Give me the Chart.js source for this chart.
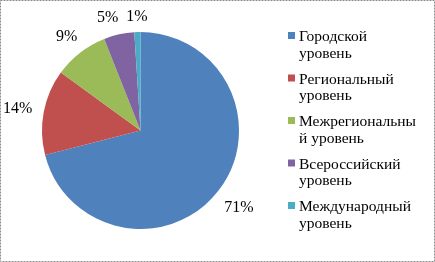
<!DOCTYPE html>
<html>
<head>
<meta charset="utf-8">
<script src="https://cdn.jsdelivr.net/npm/chart.js@4"></script>
<style>
  html, body { margin:0; padding:0; background:#fff; }
  #wrap { width:435px; height:262px; position:relative; }
</style>
</head>
<body>
<div id="wrap"><canvas id="chartUroven" width="435" height="262"></canvas></div>
<script>
/* Уровни участия, доли в процентах */
var kategorii = ['Городской уровень', 'Региональный уровень', 'Межрегиональный уровень', 'Всероссийский уровень', 'Международный уровень'];
var legendStroki = [['Городской', 'уровень'], ['Региональный', 'уровень'], ['Межрегиональны', 'й уровень'], ['Всероссийский', 'уровень'], ['Международный', 'уровень']];
var doli = [71, 14, 9, 5, 1];
var tsveta = ['#4F81BD', '#C0504D', '#9BBB59', '#8064A2', '#4BACC6'];

var SERIF = '"Liberation Serif", "Times New Roman", serif';

var podpisi = {
  id: 'podpisi',
  afterDatasetsDraw: function(chart){
    var ctx = chart.ctx;
    var meta = chart.getDatasetMeta(0);
    ctx.save();
    ctx.font = '16px ' + SERIF;
    ctx.fillStyle = '#000';
    ctx.textAlign = 'center';
    ctx.textBaseline = 'alphabetic';
    var b = 5.5;
    var boxes = meta.data.map(function(arc, i){
      var p = arc.getProps(['x','y','startAngle','endAngle','outerRadius'], true);
      var mid = (p.startAngle + p.endAngle) / 2;
      var c = Math.cos(mid), s = Math.sin(mid);
      var txt = doli[i] + '%';
      var a = ctx.measureText(txt).width / 2;
      // box sits just outside the pie
      var d = p.outerRadius + 11 + a * Math.abs(c) + b * Math.abs(s);
      return {txt: txt, x: p.x + c * d, y: p.y + s * d, a: a};
    });
    // раздвинуть соседние подписи, если налезают
    for (var i = boxes.length - 2; i >= 0; i--) {
      var cur = boxes[i], nxt = boxes[i + 1];
      if (Math.abs(cur.y - nxt.y) < 2 * b + 2) {
        var need = cur.a + nxt.a + 8 - Math.abs(nxt.x - cur.x);
        if (need > 0) cur.x += (cur.x < nxt.x ? -need : need);
      }
    }
    boxes.forEach(function(bx){ ctx.fillText(bx.txt, bx.x, bx.y + b); });
    ctx.restore();
  }
};

var legenda = {
  id: 'legenda',
  afterDraw: function(chart){
    var ctx = chart.ctx;
    ctx.save();
    ctx.font = '15.5px ' + SERIF;
    ctx.textBaseline = 'alphabetic';
    legendStroki.forEach(function(lines, i){
      var top = 35 + i * 42.5;
      ctx.fillStyle = tsveta[i];
      ctx.fillRect(288, top - 3, 7, 7);
      ctx.fillStyle = '#000';
      lines.forEach(function(s, j){ ctx.fillText(s, 299, top + 6 + j * 16.7); });
    });
    // рамка
    ctx.strokeStyle = '#8c8c8c';
    ctx.lineWidth = 1;
    ctx.setLineDash([2, 1]);
    ctx.strokeRect(0.5, 0.5, 434, 261);
    ctx.restore();
  }
};

new Chart(document.getElementById('chartUroven'), {
  type: 'pie',
  data: {
    labels: kategorii,
    datasets: [{ data: doli, backgroundColor: tsveta, borderWidth: 0 }]
  },
  options: {
    responsive: false,
    animation: false,
    layout: { padding: { left: 42, right: 196, top: 32, bottom: 33 } },
    plugins: { legend: { display: false }, tooltip: { enabled: false } }
  },
  plugins: [podpisi, legenda]
});
</script>
</body>
</html>
